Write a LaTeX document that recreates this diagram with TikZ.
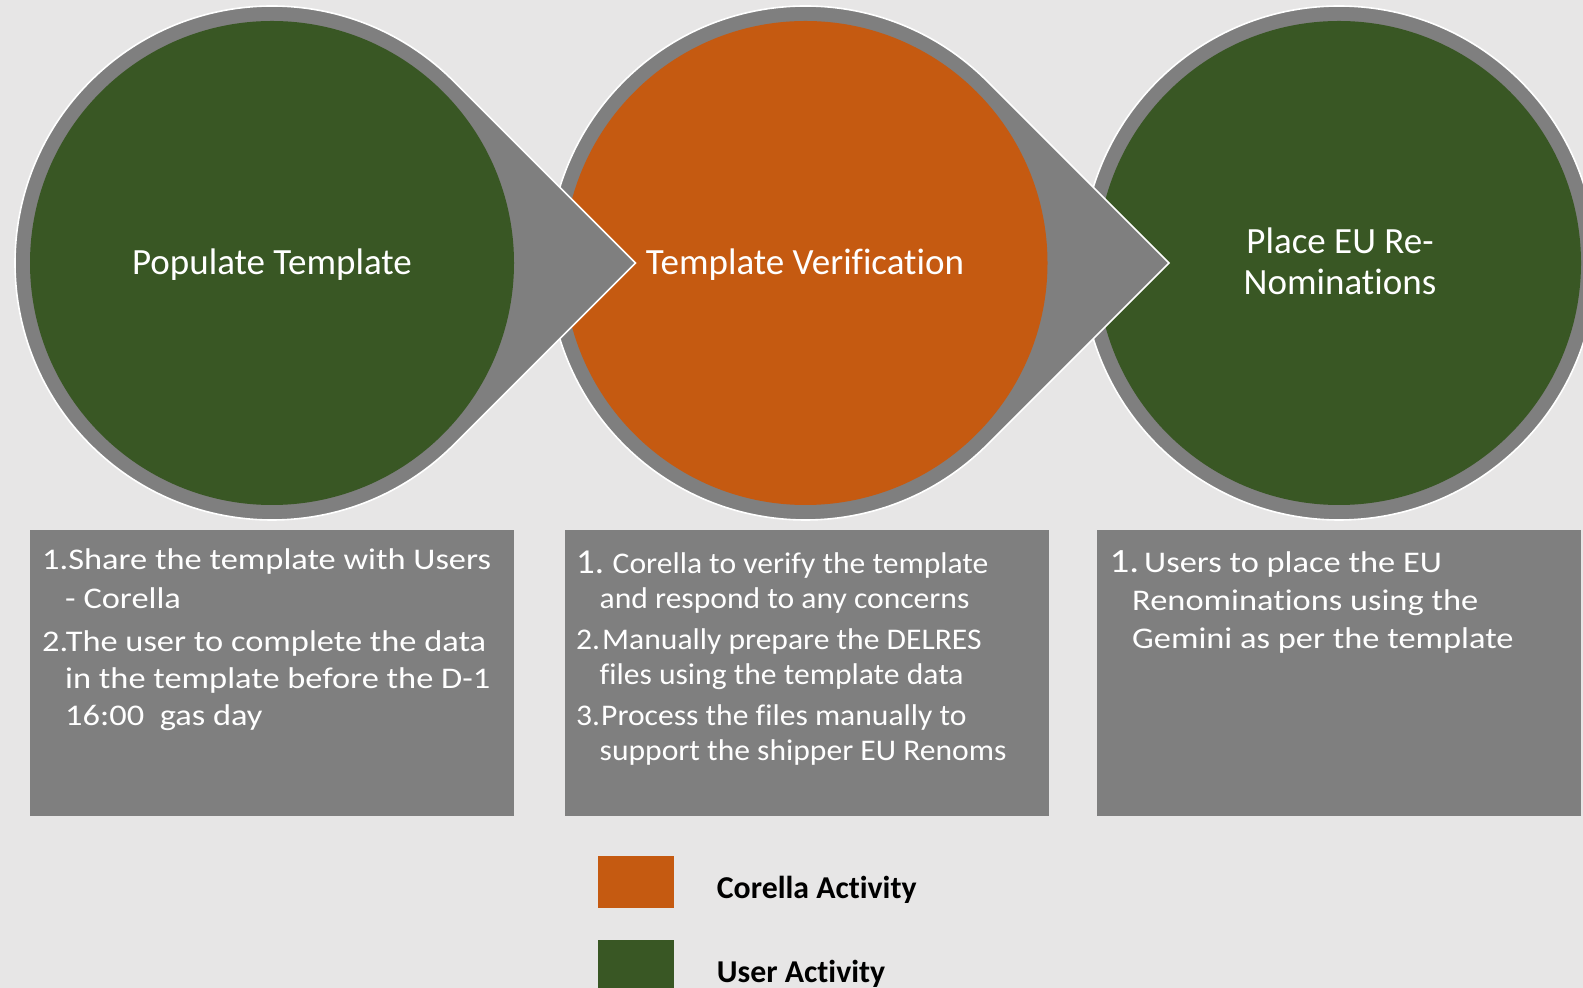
\documentclass[tikz,border=0pt]{standalone}
\usepackage{fontspec}
\defaultfontfeatures{Ligatures={NoCommon}}
\setmainfont{Carlito}
\newfontfamily\stA[FakeStretch=1.147,Ligatures={NoCommon}]{Carlito}
\newfontfamily\stB[FakeStretch=1.053,Ligatures={NoCommon}]{Carlito}
\usetikzlibrary{calc}
\definecolor{bg}{RGB}{231,230,230}
\definecolor{ringgray}{RGB}{127,127,127}
\definecolor{usergreen}{RGB}{57,87,36}
\definecolor{corange}{RGB}{197,90,17}
\begin{document}
\begin{tikzpicture}[x=1pt,y=1pt,
  ring/.style={fill=ringgray,draw=white,line width=1.6pt,line join=miter},
  disc/.style={circle,minimum size=484pt,inner sep=0pt,draw=none},
  title/.style={text=white,font=\fontsize{37}{38}\selectfont,inner sep=0pt,anchor=base},
  itemA/.style={text=white,anchor=base west,inner sep=0pt,font=\stA\fontsize{30}{36}\selectfont},
  itemB/.style={text=white,anchor=base west,inner sep=0pt,font=\stB\fontsize{30}{36}\selectfont},
  numB/.style={text=white,anchor=base west,inner sep=0pt,font=\stB\fontsize{35}{36}\selectfont},
  numA/.style={text=white,anchor=base west,inner sep=0pt,font=\stA\fontsize{34}{36}\selectfont},
  panel/.style={fill=ringgray,draw=none,minimum width=484pt,minimum height=286pt,anchor=north west,inner sep=0pt},
  legbox/.style={minimum width=76pt,minimum height=52pt,anchor=north west,inner sep=0pt,draw=none},
  legtext/.style={font=\bfseries\fontsize{31.8}{36}\selectfont,anchor=base west,inner sep=0pt,text=black}
]
\fill[bg] (0,0) rectangle (1583,988);
\useasboundingbox (0,0) rectangle (1583,988);

% centres of the three steps
\coordinate (c1) at (272,725);
\coordinate (c2) at (805.5,725);
\coordinate (c3) at (1339,725);

% last step: plain ringed circle
\path[ring] (c3) circle[radius=257pt];
\node[disc,fill=usergreen] (d3) at (c3) {};
% teardrop shapes (right to left so arrows lie on top)
\path[ring] (c2) ++(45:257pt) arc[start angle=45,end angle=315,radius=257pt]
     -- ($(c2)+(363.45,0)$) -- cycle;
\node[disc,fill=corange] (d2) at (c2) {};
\path[ring] (c1) ++(45:257pt) arc[start angle=45,end angle=315,radius=257pt]
     -- ($(c1)+(363.45,0)$) -- cycle;
\node[disc,fill=usergreen] (d1) at (c1) {};

% titles
\node[title] (t1) at (272,713) {Populate Template};
\node[title] (t2) at (805,713) {Template Verification};
\node[title] (t3a) at (1340,734) {Place EU Re-};
\node[title] (t3b) at (1340,693) {Nominations};

% panels
\node[panel] (p1) at (30,458) {};
\node[panel] (p2) at (564.5,458) {};
\node[panel] (p3) at (1097,458) {};

% panel 1 text
\node[itemA] (a1) at (42,418.7) {1.Share the template with Users};
\node[itemA] (a2) at (65,379.7) {- Corella};
\node[itemA] (a3) at (42,336.3) {2.The user to complete the data};
\node[itemA] (a4) at (65,299.7) {in the template before the D-1};
\node[itemA] (a5) at (65,262) {16:00\ \ gas day};

% panel 2 text
\node[numB] (bn1) at (576,414.7) {1.};
\node[itemB] (b1) at (612.5,414.7) {Corella to verify the template};
\node[itemB] (b2) at (599.5,379.2) {and respond to any concerns};
\node[itemB] (bn2) at (576,338.3) {2.};
\node[itemB] (b3) at (602,338.3) {Manually prepare the DELRES};
\node[itemB] (b4) at (599.5,303.3) {files using the template data};
\node[itemB] (bn3) at (576,262) {3.};
\node[itemB] (b5) at (601,262) {Process the files manually to};
\node[itemB] (b6) at (599.5,227.5) {support the shipper EU Renoms};

% panel 3 text
\node[numA] (cn1) at (1109.5,415.5) {1.};
\node[itemA] (e1) at (1144,415.5) {Users to place the EU};
\node[itemA] (e2) at (1132,377) {Renominations using the};
\node[itemA] (e3) at (1132,339.5) {Gemini as per the template};

% legend
\node[legbox,fill=corange] (lc) at (598,132) {};
\node[legbox,fill=usergreen] (lu) at (598,48) {};
\node[legtext] (lct) at (716.7,89.3) {Corella Activity};
\node[legtext] (lut) at (716.7,5) {User Activity};
\end{tikzpicture}
\end{document}
